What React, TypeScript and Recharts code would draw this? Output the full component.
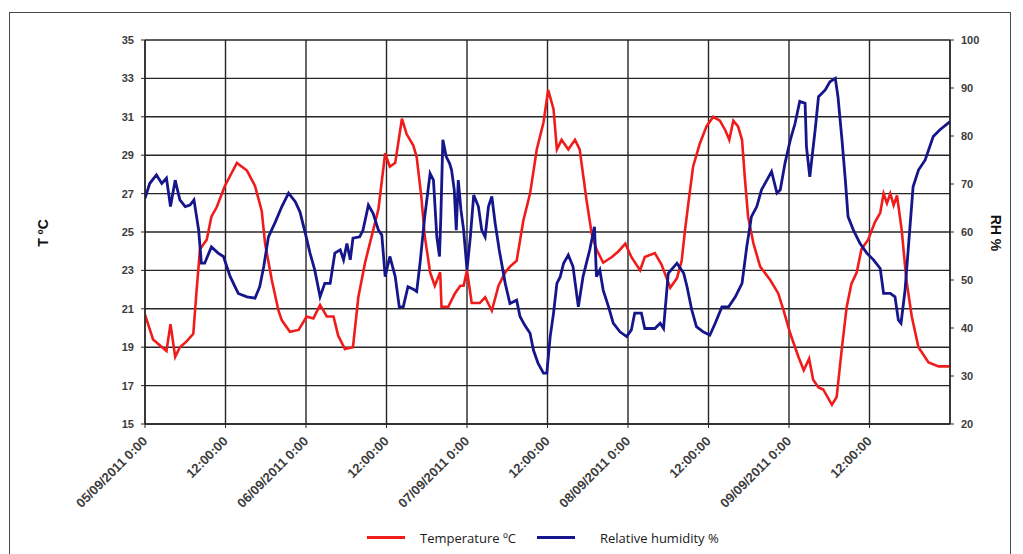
import React from 'react';
import { LineChart, Line, XAxis, YAxis, CartesianGrid } from 'recharts';

// x positions are hours since 05/09/2011 0:00
const xTickHours = [0, 12, 24, 36, 48, 60, 72, 84, 96, 108];
const xTickLabels = [
  '05/09/2011 0:00', '12:00:00', '06/09/2011 0:00', '12:00:00', '07/09/2011 0:00',
  '12:00:00', '08/09/2011 0:00', '12:00:00', '09/09/2011 0:00', '12:00:00',
];
const tTicks = [15, 17, 19, 21, 23, 25, 27, 29, 31, 33, 35];
const rhTicks = [20, 30, 40, 50, 60, 70, 80, 90, 100];

const tempHours = [
  0, 1.2, 2.2, 3.2, 3.8, 4.5, 5.2, 6.2, 7.2, 7.7,
  8.2, 9.2, 9.9, 10.7, 11.9, 13.7, 15.2, 16.4, 17.4, 17.9,
  18.9, 19.9, 20.4, 21.6, 22.9, 24.1, 25.1, 26.1, 27.1, 28.1,
  28.8, 29.8, 31.0, 31.8, 32.8, 33.8, 34.8, 35.8, 36.5, 37.3,
  38.3, 39.0, 40.0, 40.5, 41.2, 41.7, 42.5, 43.2, 44.0, 44.2,
  45.2, 46.2, 47.0, 47.5, 48.0, 48.7, 49.9, 50.7, 51.7, 52.7,
  53.7, 54.4, 55.4, 56.4, 57.4, 58.4, 59.4, 60.1, 60.9, 61.4,
  62.1, 63.1, 64.1, 64.8, 65.8, 66.6, 67.3, 68.3, 69.6, 70.6,
  71.6, 72.5, 73.8, 74.5, 76.0, 77.0, 78.3, 79.3, 80.0, 80.5,
  81.0, 81.7, 82.7, 83.7, 84.7, 85.7, 86.5, 87.1, 87.7, 88.4,
  89.0, 89.4, 89.9, 90.7, 91.7, 93.2, 94.4, 95.2, 96.2, 97.4,
  98.2, 99.0, 99.6, 100.4, 101.1, 102.4, 103.1, 103.9, 104.6, 105.3,
  106.1, 106.8, 107.8, 108.8, 109.6, 110.1, 110.6, 111.1, 111.6, 112.1,
  112.8, 113.5, 114.3, 115.3, 116.8, 118.3, 120,
];
const tempValues = [
  20.7, 19.4, 19.1, 18.8, 20.2, 18.5, 19.0, 19.3, 19.7, 22.0,
  24.1, 24.6, 25.8, 26.3, 27.4, 28.6, 28.2, 27.4, 26.1, 24.4,
  22.5, 20.9, 20.4, 19.8, 19.9, 20.6, 20.5, 21.2, 20.6, 20.6,
  19.6, 18.9, 19.0, 21.6, 23.4, 24.8, 26.2, 29.1, 28.4, 28.6,
  30.9, 30.1, 29.5, 28.9, 26.8, 24.8, 22.9, 22.2, 22.9, 21.1,
  21.1, 21.8, 22.2, 22.2, 23.0, 21.3, 21.3, 21.6, 20.9, 22.2,
  22.9, 23.2, 23.5, 25.6, 27.0, 29.3, 30.7, 32.4, 31.4, 29.3,
  29.8, 29.3, 29.8, 29.3, 26.7, 24.9, 24.1, 23.4, 23.7, 24.0,
  24.4, 23.7, 23.0, 23.7, 23.9, 23.3, 22.1, 22.6, 23.5, 25.1,
  26.5, 28.4, 29.6, 30.5, 31.0, 30.8, 30.3, 29.8, 30.8, 30.5,
  29.8, 27.9, 25.8, 24.4, 23.2, 22.5, 21.8, 20.9, 19.7, 18.5,
  17.8, 18.4, 17.3, 16.9, 16.8, 16.0, 16.4, 19.0, 21.1, 22.3,
  22.9, 24.1, 24.6, 25.5, 26.0, 27.0, 26.5, 27.0, 26.4, 26.9,
  25.1, 22.5, 20.6, 19.0, 18.2, 18.0, 18.0,
];

const rhHours = [
  0, 0.7, 1.7, 2.5, 3.2, 3.8, 4.5, 5.2, 6.0, 6.7,
  7.3, 8.0, 8.4, 8.9, 9.9, 10.9, 11.7, 12.7, 13.9, 15.2,
  16.4, 17.1, 17.7, 18.4, 19.4, 20.4, 21.4, 22.4, 23.1, 23.9,
  24.6, 25.3, 26.1, 26.8, 27.6, 28.3, 29.1, 29.6, 30.1, 30.6,
  31.0, 32.0, 32.5, 33.3, 34.0, 34.8, 35.3, 35.8, 36.5, 37.3,
  37.9, 38.5, 39.2, 40.0, 40.5, 41.0, 41.7, 42.5, 43.0, 43.5,
  43.9, 44.1, 44.4, 44.9, 45.4, 45.7, 46.1, 46.4, 46.7, 47.1,
  47.5, 48.0, 48.5, 49.0, 49.7, 50.2, 50.7, 51.2, 51.7, 52.2,
  52.8, 53.7, 54.4, 55.4, 55.9, 56.6, 57.4, 57.9, 58.6, 59.4,
  59.9, 60.4, 60.9, 61.4, 61.9, 62.4, 63.1, 63.8, 64.6, 65.3,
  65.8, 66.3, 67.0, 67.3, 67.8, 68.3, 69.1, 69.8, 70.8, 71.8,
  72.5, 73.0, 74.0, 74.5, 76.0, 76.8, 77.3, 78.0, 79.3, 80.3,
  80.8, 81.5, 82.2, 83.2, 84.2, 85.0, 86.0, 87.0, 88.0, 89.0,
  89.7, 90.4, 91.2, 91.9, 92.7, 93.4, 94.2, 94.7, 95.4, 96.2,
  96.9, 97.6, 98.4, 98.6, 99.1, 99.9, 100.4, 101.4, 102.1, 102.9,
  103.3, 103.9, 104.4, 104.8, 105.6, 106.6, 107.6, 108.6, 109.6, 110.1,
  111.1, 111.8, 112.3, 112.7, 113.3, 113.8, 114.5, 115.3, 116.3, 117.5,
  118.5, 120,
];
const rhValues = [
  67.0, 70.1, 71.9, 70.1, 71.2, 65.3, 70.8, 66.7, 65.3, 65.6,
  66.7, 60.4, 53.5, 53.5, 56.9, 55.6, 54.9, 50.7, 47.2, 46.5,
  46.2, 48.6, 52.8, 59.0, 62.0, 65.3, 68.1, 66.3, 64.2, 59.7,
  55.6, 52.1, 46.5, 49.3, 49.3, 55.6, 56.3, 54.2, 57.6, 54.2,
  58.7, 59.0, 60.4, 65.6, 63.9, 60.4, 59.4, 50.7, 54.9, 50.7,
  44.4, 44.4, 48.6, 48.1, 47.6, 53.5, 63.2, 72.2, 70.8, 59.0,
  54.9, 63.2, 79.2, 75.7, 74.3, 72.9, 68.8, 60.4, 70.8, 64.6,
  60.4, 52.1, 59.0, 67.7, 65.3, 60.4, 59.0, 65.3, 67.4, 61.8,
  56.3, 49.3, 45.1, 45.8, 42.4, 40.6, 38.9, 35.4, 32.6, 30.6,
  30.6, 38.2, 43.1, 49.3, 50.7, 53.5, 55.2, 52.8, 44.4, 50.7,
  53.5, 56.3, 61.1, 50.7, 52.1, 47.9, 44.4, 41.0, 39.2, 38.2,
  39.6, 43.1, 43.1, 39.9, 39.9, 41.0, 39.9, 51.4, 53.5, 51.4,
  48.6, 43.8, 40.3, 39.2, 38.5, 41.0, 44.4, 44.4, 46.5, 49.3,
  56.9, 63.2, 65.3, 68.8, 70.8, 72.6, 68.1, 68.8, 74.3, 79.2,
  82.6, 87.2, 86.8, 77.8, 71.5, 81.3, 88.2, 89.6, 91.3, 92.0,
  88.2, 79.2, 70.8, 63.2, 60.4, 57.6, 55.6, 54.2, 52.4, 47.2,
  47.2, 46.5, 41.7, 41.0, 47.9, 56.9, 69.4, 72.9, 75.0, 79.9,
  81.3, 83.0,
];

const tempData = tempHours.map((h, i) => ({ h, v: tempValues[i] }));
const rhData = rhHours.map((h, i) => ({ h, v: rhValues[i] }));

const RED = '#f01c1c';
const BLUE = '#15158c';
const GRID = '#262626';
const TICK_FONT = "'Liberation Sans', Arial, sans-serif";

const XTick = (props: any) => {
  const { x, y, payload } = props;
  const i = xTickHours.indexOf(payload.value);
  const label = i >= 0 ? xTickLabels[i] : '';
  return (
    <g transform={`translate(${x + 3},${y + 12})`}>
      <text
        textAnchor="end"
        transform="rotate(-45)"
        fill="#3c3c3c"
        fontSize={13}
        fontWeight="bold"
        fontFamily={TICK_FONT}
      >
        {label}
      </text>
    </g>
  );
};

export default function App() {
  return (
    <div style={{ position: 'absolute', left: 0, top: 0, width: 1023, height: 554, background: '#fff', overflow: 'hidden' }}>
      <div style={{ position: 'absolute', left: 9, top: 12, width: 1002, height: 600, border: '1.5px solid #4a4a4a', boxSizing: 'border-box' }} />
      <LineChart width={1023} height={554} margin={{ top: 40, right: 0, bottom: 0, left: 0 }}>
        <CartesianGrid yAxisId="t" stroke={GRID} strokeWidth={1.4} />
        <XAxis
          dataKey="h"
          type="number"
          domain={[0, 120]}
          ticks={xTickHours}
          interval={0}
          height={130}
          tickSize={4}
          tickMargin={2}
          stroke={GRID}
          axisLine={{ stroke: GRID, strokeWidth: 1.4 }}
          tick={<XTick />}
          allowDataOverflow
        />
        <YAxis
          yAxisId="t"
          domain={[15, 35]}
          ticks={tTicks}
          interval={0}
          width={145}
          tickSize={4}
          tickMargin={7}
          stroke={GRID}
          axisLine={{ stroke: GRID, strokeWidth: 1.4 }}
          tick={{ fill: '#3c3c3c', fontSize: 11, fontWeight: 'bold', fontFamily: TICK_FONT }}
          label={{
            content: () => (
              <text x={48} y={233} transform="rotate(-90 48 233)" textAnchor="middle" fontSize={14} fontWeight="bold" fill="#111" fontFamily={TICK_FONT}>T ºC</text>
            ),
          }}
        />
        <YAxis
          yAxisId="rh"
          orientation="right"
          domain={[20, 100]}
          ticks={rhTicks}
          interval={0}
          width={73}
          tickSize={4}
          tickMargin={7}
          stroke={GRID}
          axisLine={{ stroke: GRID, strokeWidth: 1.4 }}
          tick={{ fill: '#3c3c3c', fontSize: 11, fontWeight: 'bold', fontFamily: TICK_FONT, textAnchor: 'start' }}
          label={{
            content: () => (
              <text x={991} y={233} transform="rotate(90 991 233)" textAnchor="middle" fontSize={14} fontWeight="bold" fill="#111" fontFamily={TICK_FONT}>RH %</text>
            ),
          }}
        />
        <Line
          data={tempData}
          dataKey="v"
          yAxisId="t"
          type="linear"
          stroke={RED}
          strokeWidth={2.6}
          dot={false}
          isAnimationActive={false}
          name="Temperature ºC"
        />
        <Line
          data={rhData}
          dataKey="v"
          yAxisId="rh"
          type="linear"
          stroke={BLUE}
          strokeWidth={2.8}
          dot={false}
          isAnimationActive={false}
          name="Relative humidity %"
        />
      </LineChart>
      <div style={{ position: 'absolute', left: 367, top: 536, width: 38, height: 3, background: RED }} />
      <div style={{ position: 'absolute', left: 420, top: 529, fontSize: 13, lineHeight: '18px', fontFamily: "'Open Sans', 'Noto Sans', sans-serif", color: '#1a1a1a', whiteSpace: 'nowrap' }}>Temperature ºC</div>
      <div style={{ position: 'absolute', left: 537, top: 536, width: 38, height: 3, background: BLUE }} />
      <div style={{ position: 'absolute', left: 600, top: 529, fontSize: 13, lineHeight: '18px', fontFamily: "'Open Sans', 'Noto Sans', sans-serif", color: '#1a1a1a', whiteSpace: 'nowrap' }}>Relative humidity %</div>
    </div>
  );
}
